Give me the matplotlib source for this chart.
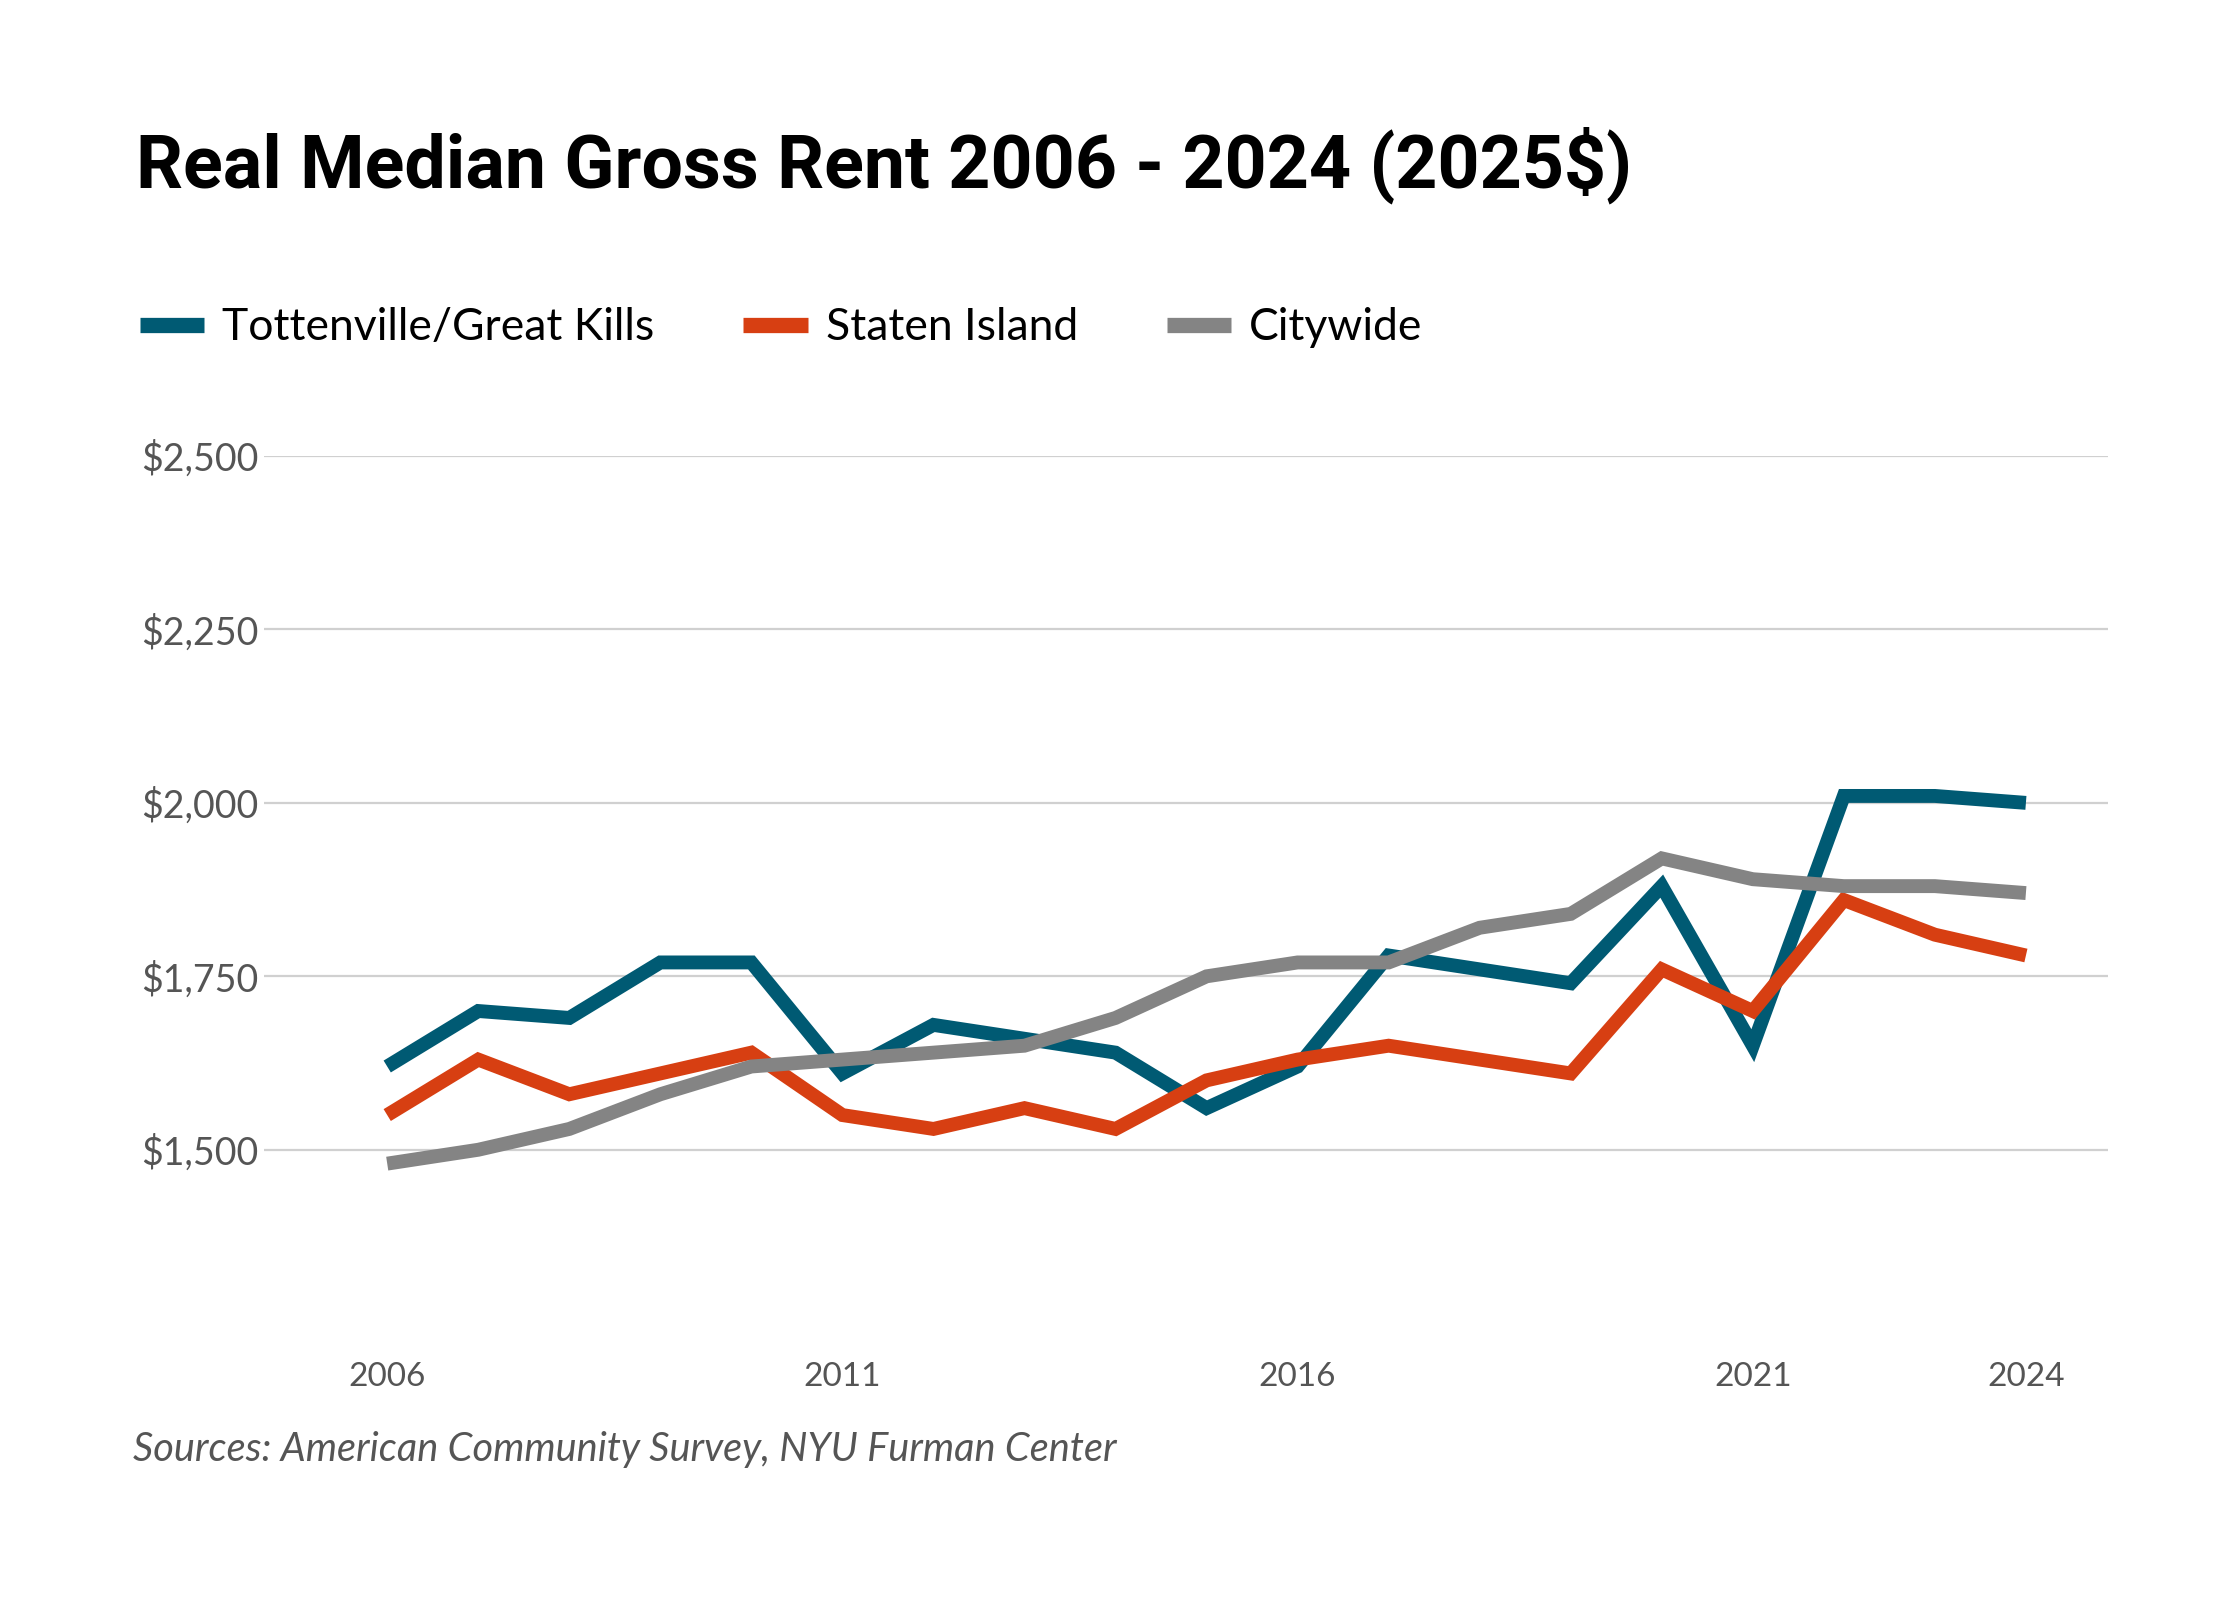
import matplotlib
matplotlib.use("Agg")
import matplotlib.pyplot as plt
from matplotlib.ticker import FuncFormatter

years = list(range(2006, 2025))
tottenville = [1620, 1700, 1690, 1770, 1770, 1610, 1680, 1660, 1640, 1560,
               1620, 1780, 1760, 1740, 1880, 1650, 2010, 2010, 2000]
staten_island = [1550, 1630, 1580, 1610, 1640, 1550, 1530, 1560, 1530, 1600,
                 1630, 1650, 1630, 1610, 1760, 1700, 1860, 1810, 1780]
citywide = [1480, 1500, 1530, 1580, 1620, 1630, 1640, 1650, 1690, 1750,
            1770, 1770, 1820, 1840, 1920, 1890, 1880, 1880, 1870]

series_names = ["Tottenville/Great Kills", "Staten Island", "Citywide"]
colors = ["#005a73", "#d73f12", "#848484"]
xticks = [2006, 2011, 2016, 2021, 2024]
yticks = [1500, 1750, 2000, 2250, 2500]

plt.rcParams["font.family"] = ["Lato", "DejaVu Sans"]

fig = plt.figure(figsize=(11.2, 8), dpi=200)
ax = fig.add_axes([0.118, 0.173, 0.823, 0.542])

for vals, name, c in zip([tottenville, staten_island, citywide], series_names, colors):
    ax.plot(years, vals, color=c, lw=5.0, label=name, solid_joinstyle="miter",
            solid_capstyle="butt")

ax.set_xlim(2004.65, 2024.9)
ax.set_ylim(1250, 2500)
ax.set_xticks(xticks)
ax.set_yticks(yticks)
ax.yaxis.set_major_formatter(FuncFormatter(lambda v, p: "${:,.0f}".format(v)))
ax.grid(axis="y", color="#d0d0d0", lw=0.8)
ax.set_axisbelow(True)
for s in ax.spines.values():
    s.set_visible(False)
ax.tick_params(axis="both", length=0, labelcolor="#555555")
ax.tick_params(axis="x", pad=14, labelsize=12)
ax.tick_params(axis="y", pad=2, labelsize=13.5)

fig.text(0.0606, 0.897, "Real Median Gross Rent 2006 - 2024 (2025$)",
         fontsize=26.5, fontweight="bold", family=["Roboto", "DejaVu Sans"],
         va="center", ha="left", color="black")

handles, labels = ax.get_legend_handles_labels()
fig.legend(handles, labels, loc="center left", bbox_to_anchor=(0.0625, 0.795),
           ncol=3, frameon=False, fontsize=16, handlelength=1.45,
           handletextpad=0.4, columnspacing=2.0, borderpad=0, borderaxespad=0)
for line in fig.legends[0].get_lines():
    line.set_linewidth(5.5)

fig.text(0.0593, 0.094, "Sources: American Community Survey, NYU Furman Center",
         fontsize=14.3, style="italic", color="#555555",
         va="center", ha="left")

fig.savefig("out.png", dpi=200, facecolor="white")
